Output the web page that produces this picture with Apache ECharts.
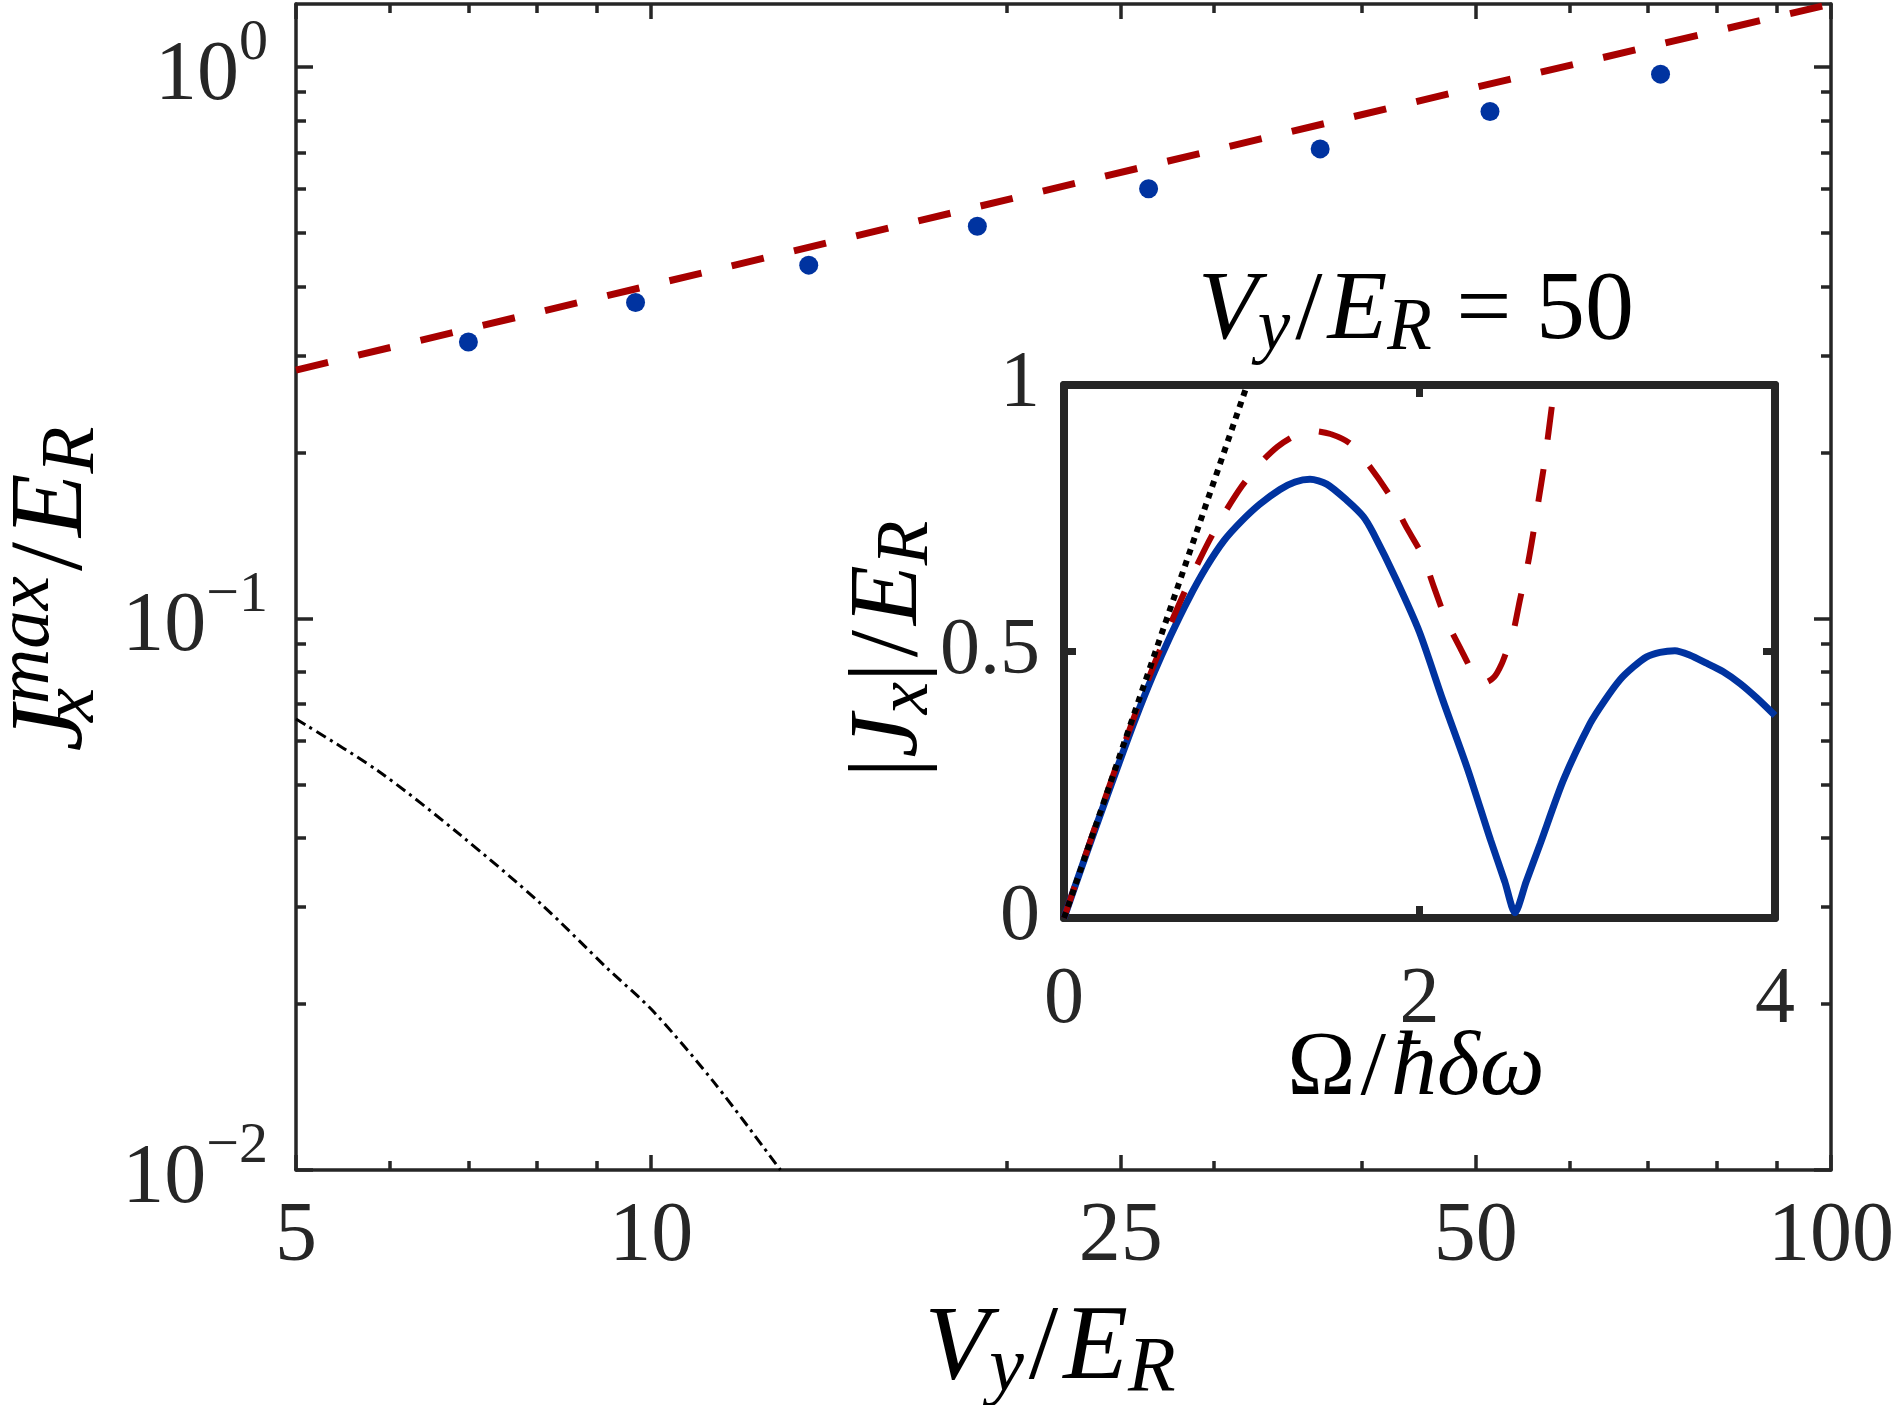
<!DOCTYPE html>
<html>
<head>
<meta charset="utf-8">
<script src="https://cdn.jsdelivr.net/npm/echarts@6/dist/echarts.min.js"></script>
<style>
  html, body { margin: 0; padding: 0; background: #fff; }
  #chart { width: 1894px; height: 1405px; }
</style>
</head>
<body>
<div id="chart"></div>
<script>
// main panel: J_x^max / E_R against V_y / E_R, log-log
const vyDots = [7.0, 9.7, 13.6, 18.9, 26.4, 36.9, 51.4, 71.7];
const jmaxDots = [0.317, 0.374, 0.437, 0.514, 0.601, 0.710, 0.830, 0.970];
const vyFit = [5, 10, 20, 50, 100];
const jmaxFit = [0.282, 0.402, 0.574, 0.918, 1.30];
const vyTb = [5.0, 5.87, 6.89, 8.06, 9.18, 10.04, 11.31, 12.87];
const jmaxTb = [0.0657, 0.0529, 0.0405, 0.0304, 0.0232, 0.0194, 0.0144, 0.0100];

const xMajor = [5, 10, 25, 50, 100];
const xMinor = [6, 7, 8, 9, 20, 30, 40, 60, 70, 80, 90];
const yMajor = [0.01, 0.1, 1];
const yMinor = [0.02, 0.03, 0.04, 0.05, 0.06, 0.07, 0.08, 0.09,
                0.2, 0.3, 0.4, 0.5, 0.6, 0.7, 0.8, 0.9];

// inset: |J_x| / E_R against Omega / hbar delta omega, V_y / E_R = 50
const omegaExact = [0, 0.1, 0.2, 0.3, 0.4, 0.5, 0.6, 0.7, 0.8, 0.9, 1.0, 1.1, 1.215, 1.3,
                    1.384, 1.478, 1.59, 1.684, 1.74, 1.87, 2.0, 2.13, 2.27, 2.4, 2.48, 2.537,
                    2.6, 2.68, 2.81, 2.96, 3.044, 3.128, 3.203, 3.278, 3.353, 3.437, 3.522,
                    3.615, 3.709, 3.803, 3.897, 4.0];
const jExact = [0, 0.096, 0.19, 0.282, 0.372, 0.455, 0.53, 0.598, 0.658, 0.708, 0.745, 0.776, 0.804, 0.818,
                0.823, 0.814, 0.784, 0.753, 0.722, 0.634, 0.536, 0.41, 0.28, 0.146, 0.068, 0.01,
                0.068, 0.14, 0.259, 0.365, 0.409, 0.447, 0.471, 0.49, 0.4985, 0.5015, 0.493,
                0.478, 0.462, 0.44, 0.413, 0.38];
const omegaPert = [0, 0.1, 0.2, 0.3, 0.4, 0.5, 0.6, 0.7, 0.8, 0.9, 1.0, 1.1, 1.2, 1.3, 1.4, 1.5,
                   1.61, 1.72, 1.85, 1.92, 2.02, 2.08, 2.15, 2.23, 2.32, 2.37, 2.42, 2.46, 2.5,
                   2.53, 2.565, 2.61, 2.64, 2.67, 2.70, 2.725, 2.76];
const jPert = [0, 0.098, 0.195, 0.29, 0.382, 0.47, 0.552, 0.628, 0.697, 0.758, 0.81, 0.852, 0.884, 0.905, 0.914, 0.908,
               0.89, 0.847, 0.784, 0.737, 0.678, 0.622, 0.559, 0.506, 0.45, 0.442, 0.452, 0.475, 0.51,
               0.54, 0.597, 0.665, 0.722, 0.784, 0.847, 0.909, 1.0];
const omegaLin = [0, 1.03];
const jLin = [0, 1.0];

const INK = '#262626';
const BLUE = '#0033a0';
const RED = '#a80000';
const SERIF = '"Liberation Serif", "DejaVu Serif", serif';

function pairs(xs, ys) {
    return xs.map((x, i) => [x, ys[i]]);
}

// one log axis of the main box; major and minor ticks sit on separate copies
function mainAxis(dim, position, ticks, len, opts) {
    opts = opts || {};
    const ax = {
        type: 'log',
        gridIndex: 0,
        position: position,
        min: dim === 'x' ? 5 : 0.01,
        max: dim === 'x' ? 100 : 1.3,
        axisLine: {show: !!opts.line, onZero: false, lineStyle: {color: INK, width: 3.5}},
        axisTick: {show: true, inside: true, length: len, customValues: ticks,
                   lineStyle: {color: INK, width: 3.5}},
        axisLabel: {show: false},
        splitLine: {show: false},
        minorTick: {show: false},
        minorSplitLine: {show: false}
    };
    if (opts.labels) {
        ax.axisLabel = opts.labels;
    }
    return ax;
}

const xLabels = {
    show: true,
    customValues: xMajor,
    margin: 26,
    color: INK,
    fontFamily: SERIF,
    fontSize: 84,
    formatter: v => String(Math.round(v))
};

const yLabels = {
    show: true,
    customValues: yMajor,
    margin: 28,
    color: INK,
    formatter: v => {
        const e = Math.round(Math.log10(v));
        return '{b|10}{s|' + (e < 0 ? '\u2212' + (-e) : e) + '}';
    },
    rich: {
        b: {fontFamily: SERIF, fontSize: 84, color: INK, lineHeight: 104, verticalAlign: 'bottom'},
        s: {fontFamily: SERIF, fontSize: 58, color: INK, lineHeight: 58, verticalAlign: 'top'}
    }
};

function insetAxis(dim, position, labels) {
    return {
        type: 'value',
        gridIndex: 1,
        position: position,
        min: 0,
        max: dim === 'x' ? 4 : 1,
        interval: dim === 'x' ? 2 : 0.5,
        axisLine: {show: true, onZero: false, lineStyle: {color: INK, width: 8}},
        axisTick: {show: true, inside: true, length: 12, lineStyle: {color: INK, width: 7}},
        axisLabel: labels || {show: false},
        splitLine: {show: false}
    };
}

// math-style label pieces: upright, italic, subscript (pushed down), superscript (pushed up)
function mathRich(size) {
    const small = Math.round(size * 0.74);
    const down = Math.round(size * 0.36);
    const up = Math.round(size * 0.5);
    return {
        n: {fontFamily: SERIF, fontSize: size, color: INK},
        sl: {fontFamily: SERIF, fontSize: size, color: INK, padding: [0, 5, 0, 5]},
        i: {fontFamily: SERIF, fontSize: size, fontStyle: 'italic', color: INK},
        sb: {fontFamily: SERIF, fontSize: small, fontStyle: 'italic', color: INK, padding: [down, 0, 0, 0]},
        sbx: {fontFamily: SERIF, fontSize: small, fontStyle: 'italic', color: INK, padding: [down, 0, 0, 0], width: 1},
        sp: {fontFamily: SERIF, fontSize: small, fontStyle: 'italic', color: INK, padding: [0, 0, up, 0]}
    };
}

function mathText(x, y, text, size, rotate) {
    return {
        type: 'text',
        x: x,
        y: y,
        rotation: rotate ? Math.PI / 2 : 0,
        style: {
            text: text,
            rich: mathRich(size),
            align: 'center',
            verticalAlign: 'middle',
            textAlign: 'center',
            textVerticalAlign: 'middle'
        },
        z: 20
    };
}

const chart = echarts.init(document.getElementById('chart'), null, {renderer: 'canvas'});

chart.setOption({
    animation: false,
    backgroundColor: '#fff',
    grid: [
        {left: 296, top: 4, width: 1535, height: 1166, containLabel: false, outerBoundsMode: 'none'},
        {left: 1064, top: 385, width: 711, height: 533, containLabel: false, outerBoundsMode: 'none'}
    ],
    xAxis: [
        mainAxis('x', 'bottom', xMajor, 15, {line: true, labels: xLabels}),
        mainAxis('x', 'bottom', xMinor, 9),
        mainAxis('x', 'top', xMajor, 15, {line: true}),
        mainAxis('x', 'top', xMinor, 9),
        insetAxis('x', 'bottom', {show: true, margin: 43, color: INK, fontFamily: SERIF, fontSize: 80}),
        insetAxis('x', 'top')
    ],
    yAxis: [
        mainAxis('y', 'left', yMajor, 17, {line: true, labels: yLabels}),
        mainAxis('y', 'left', yMinor, 10),
        mainAxis('y', 'right', yMajor, 17, {line: true}),
        mainAxis('y', 'right', yMinor, 10),
        insetAxis('y', 'left', {show: true, margin: 24, color: INK, fontFamily: SERIF, fontSize: 80}),
        insetAxis('y', 'right')
    ],
    series: [
        {
            type: 'line',
            xAxisIndex: 0, yAxisIndex: 0,
            data: pairs(vyTb, jmaxTb),
            showSymbol: false,
            smooth: 0.3,
            lineStyle: {color: '#000', width: 3, type: [11, 5, 3, 5]}
        },
        {
            type: 'line',
            xAxisIndex: 0, yAxisIndex: 0,
            data: pairs(vyFit, jmaxFit),
            showSymbol: false,
            lineStyle: {color: RED, width: 7, type: [33, 31], cap: 'butt'}
        },
        {
            type: 'scatter',
            xAxisIndex: 0, yAxisIndex: 0,
            data: pairs(vyDots, jmaxDots),
            symbol: 'circle',
            symbolSize: 19,
            itemStyle: {color: BLUE, opacity: 1}
        },
        {
            type: 'line',
            xAxisIndex: 4, yAxisIndex: 4,
            data: pairs(omegaExact, jExact),
            showSymbol: false,
            smooth: 0.25,
            z: 6,
            lineStyle: {color: BLUE, width: 7}
        },
        {
            type: 'line',
            xAxisIndex: 4, yAxisIndex: 4,
            data: pairs(omegaPert, jPert),
            showSymbol: false,
            smooth: 0.25,
            z: 7,
            lineStyle: {color: RED, width: 6, type: [33, 30], cap: 'butt'}
        },
        {
            type: 'line',
            xAxisIndex: 4, yAxisIndex: 4,
            data: pairs(omegaLin, jLin),
            showSymbol: false,
            z: 8,
            lineStyle: {color: '#000', width: 6, type: [6, 6], cap: 'butt'}
        }
    ],
    graphic: [
        mathText(1050, 1350, '{i|V}{sb|y}{sl|/}{i|E}{sb|R}', 106),
        mathText(54, 589, '{i|J}{sbx|x}{sp|max}{sl|/}{i|E}{sb|R}', 104, true),
        mathText(1416, 312, '{i|V}{sb|y}{sl|/}{i|E}{sb|R}{n| = 50}', 98),
        mathText(1416, 1070, '{n|\u03a9}{sl|/}{i|\u0127\u03b4\u03c9}', 92),
        mathText(890, 649, '{n||}{i|J}{sb|x}{n||}{sl|/}{i|E}{sb|R}', 98, true)
    ]
});
</script>
</body>
</html>
